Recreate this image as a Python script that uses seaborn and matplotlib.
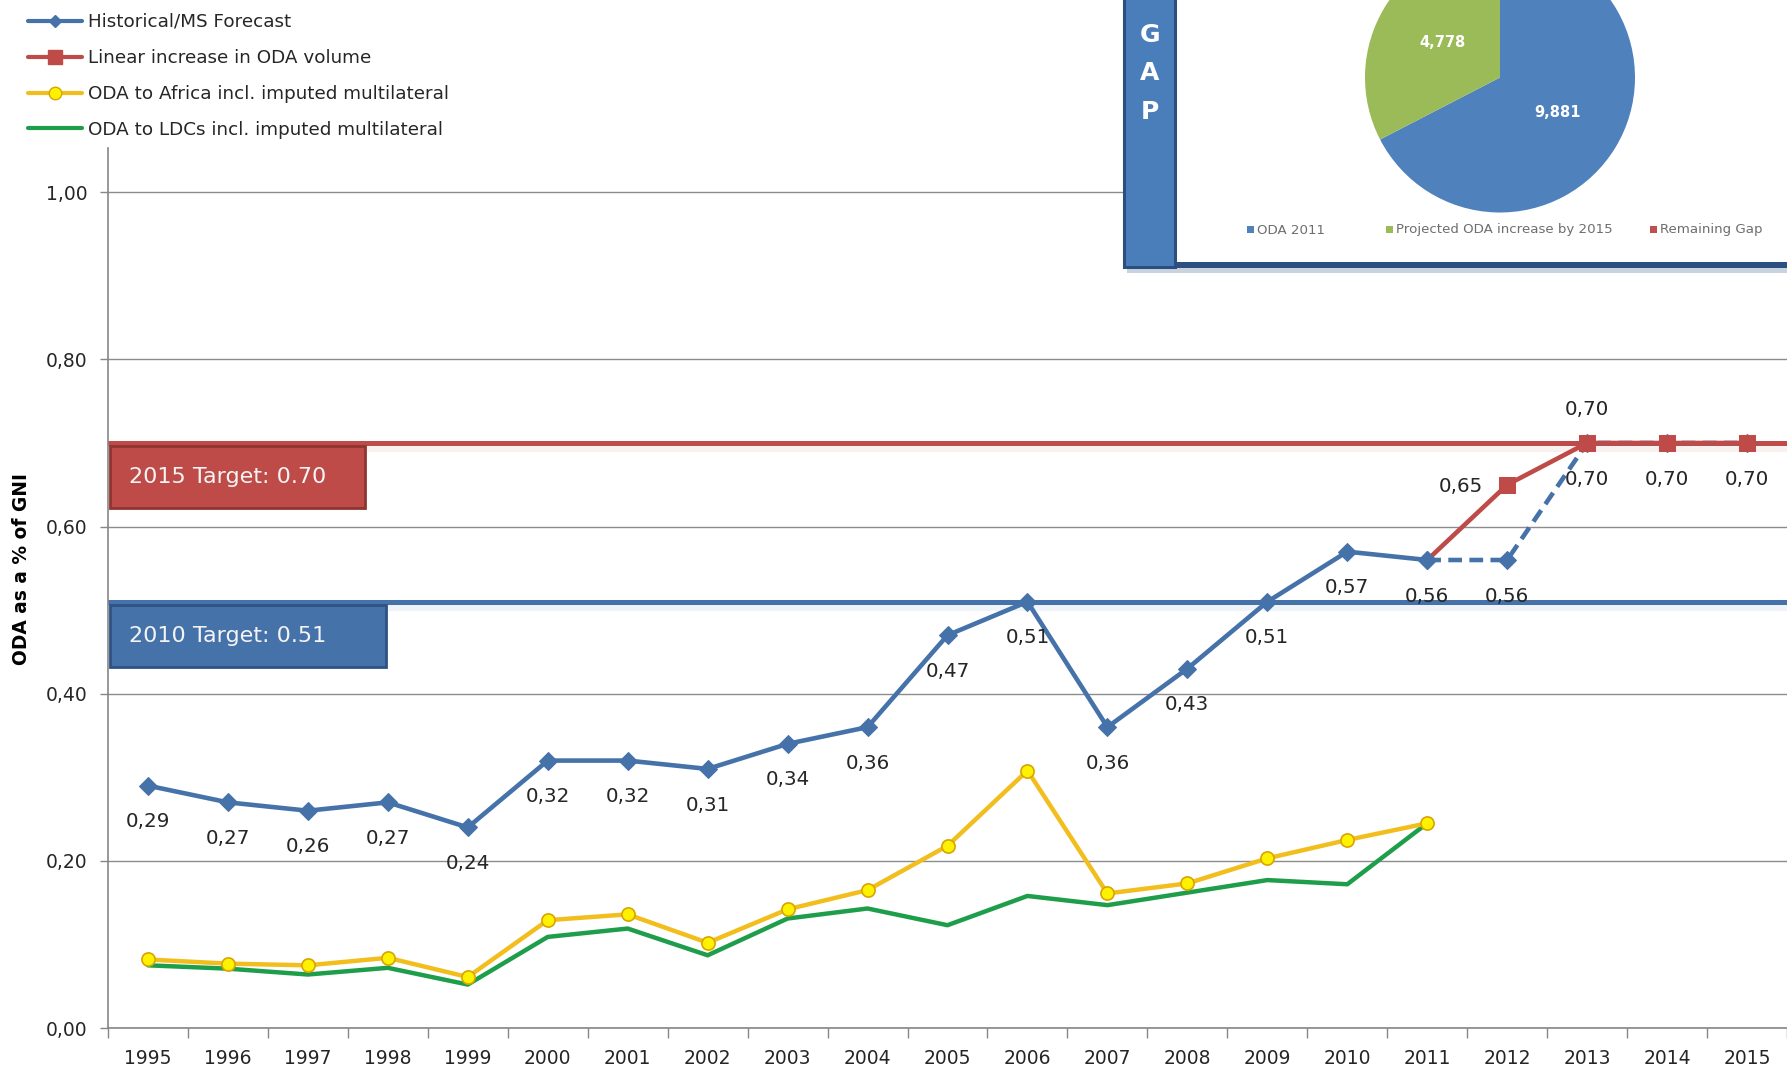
import matplotlib
matplotlib.use("Agg")
import matplotlib.pyplot as plt
import pandas as pd
import seaborn as sns
from matplotlib.lines import Line2D
from matplotlib.patches import Rectangle
from matplotlib.ticker import FuncFormatter, MultipleLocator

# ---------------------------------------------------------------- data
years_hist = list(range(1995, 2012))
oda_hist = [0.29, 0.27, 0.26, 0.27, 0.24, 0.32, 0.32, 0.31, 0.34, 0.36,
            0.47, 0.51, 0.36, 0.43, 0.51, 0.57, 0.56]

years_proj = list(range(2011, 2016))
oda_ms_forecast = [0.56, 0.56, 0.70, 0.70, 0.70]
oda_linear = [0.56, 0.65, 0.70, 0.70, 0.70]

oda_africa = [0.082, 0.077, 0.075, 0.084, 0.061, 0.129, 0.136, 0.102, 0.142,
              0.165, 0.218, 0.308, 0.161, 0.173, 0.203, 0.225, 0.245]
oda_ldc = [0.075, 0.071, 0.064, 0.072, 0.052, 0.109, 0.119, 0.087, 0.131,
           0.143, 0.123, 0.158, 0.147, 0.162, 0.177, 0.172, 0.245]

series_names = ["Historical/MS Forecast", "Linear increase in ODA volume",
                "ODA to Africa incl. imputed multilateral",
                "ODA to LDCs incl. imputed multilateral"]

target_values = [0.70, 0.51]
target_labels = ["2015 Target: 0.70", "2010 Target: 0.51"]

pie_values = [9881, 4778, 0]
pie_labels = ["ODA 2011", "Projected ODA increase by 2015", "Remaining Gap"]
gap_letters = ["G", "A", "P"]

# ---------------------------------------------------------------- style
BLUE = "#4672AA"
RED = "#BE4B48"
YELLOW = "#F2BE1E"
YELLOW_FACE = "#FFF200"
GREEN = "#1E9E4A"
GRID = "#8C8C8C"
TXT = "#262626"

sns.set_theme(style="white")
plt.rcParams["font.family"] = ["DejaVu Sans"]

W, H = 1787, 1072
fig = plt.figure(figsize=(W / 100, H / 100), dpi=100)
fig.patch.set_facecolor("white")

ax_left, ax_right, ax_bottom_px, ax_top_px = 108, 1787, 1028, 148
ax = fig.add_axes([ax_left / W, 1 - ax_bottom_px / H,
                   (ax_right - ax_left) / W, (ax_bottom_px - ax_top_px) / H])
ax.set_xlim(1994.5, 2015.5)
ax.set_ylim(0, 1.053)

def comma(v):
    return f"{v:.2f}".replace(".", ",")

# gridlines and axes
ax.yaxis.set_major_locator(MultipleLocator(0.2))
ax.yaxis.set_major_formatter(FuncFormatter(lambda v, p: comma(v)))
ax.grid(axis="y", color=GRID, linewidth=1.0)
ax.set_axisbelow(True)
for s in ["top", "right"]:
    ax.spines[s].set_visible(False)
for s in ["left", "bottom"]:
    ax.spines[s].set_color("#868686")
    ax.spines[s].set_linewidth(1.2)

all_years = list(range(1995, 2016))
ax.set_xticks(all_years)
ax.set_xticklabels([str(y) for y in all_years])
ax.set_xticks([y - 0.5 for y in all_years] + [2015.5], minor=True)
ax.tick_params(axis="x", which="major", length=0, pad=15, labelsize=13.5,
               labelcolor=TXT)
ax.tick_params(axis="x", which="minor", length=7, width=1, color="#868686",
               direction="out", bottom=True)
ax.tick_params(axis="y", length=6, width=1, color="#868686", direction="out",
               left=True, pad=9, labelsize=13.5, labelcolor=TXT)

# target lines with their label boxes
target_colors = [(RED, "#8E3532"), (BLUE, "#2F5283")]
box_widths = [3.18, 3.45]
for t, lab, (fc, ec), bw in zip(target_values, target_labels, target_colors, box_widths):
    ax.axhline(t - 0.004, color=fc, linewidth=8, alpha=0.08, zorder=2)
    ax.axhline(t, color=fc, linewidth=3.6, zorder=2.1)
    ax.add_patch(Rectangle((1994.53, t - 0.078), bw, 0.074, facecolor=fc,
                           edgecolor=ec, linewidth=2, zorder=2.2))
    ax.text(1994.76, t - 0.041, lab, color="#F4F4F4", fontsize=16,
            va="center", ha="left", zorder=2.3)

# series
df_ldc = pd.DataFrame({"year": years_hist, "value": oda_ldc})
df_afr = pd.DataFrame({"year": years_hist, "value": oda_africa})
df_hist = pd.DataFrame({"year": years_hist, "value": oda_hist})
df_fc = pd.DataFrame({"year": years_proj, "value": oda_ms_forecast})
df_lin = pd.DataFrame({"year": years_proj, "value": oda_linear})

sns.lineplot(data=df_ldc, x="year", y="value", ax=ax, color=GREEN,
             linewidth=3.2, zorder=3)
sns.lineplot(data=df_afr, x="year", y="value", ax=ax, color=YELLOW,
             linewidth=3.2, marker="o", markersize=9.5,
             markerfacecolor=YELLOW_FACE, markeredgecolor="#D9A400",
             markeredgewidth=1.2, zorder=3.5)
sns.lineplot(data=df_fc, x="year", y="value", ax=ax, color=BLUE,
             linewidth=3.3, linestyle=(0, (3, 1.6)), marker="D", markersize=9,
             markerfacecolor=BLUE, markeredgecolor=BLUE, zorder=4)
sns.lineplot(data=df_lin, x="year", y="value", ax=ax, color=RED,
             linewidth=3.3, marker="s", markersize=12, markevery=[1, 2, 3, 4],
             markerfacecolor=RED, markeredgecolor=RED, zorder=4.5)
sns.lineplot(data=df_hist, x="year", y="value", ax=ax, color=BLUE,
             linewidth=3.3, marker="D", markersize=9,
             markerfacecolor=BLUE, markeredgecolor=BLUE, zorder=5)

ax.set_xlabel("")
ax.set_ylabel("ODA as a % of GNI", fontsize=13.4, fontweight="bold", color="black")
ax.yaxis.set_label_coords((31 - ax_left) / (ax_right - ax_left), 0.522)

# value labels
lab_kw = dict(textcoords="offset points", ha="center", va="center",
              fontsize=14.3, color=TXT, zorder=6)
for x, v in zip(years_hist, oda_hist):
    ax.annotate(comma(v), (x, v), xytext=(0, -26), **lab_kw)
for x, v in zip(years_proj[1:], oda_ms_forecast[1:]):
    ax.annotate(comma(v), (x, v), xytext=(0, -26), **lab_kw)
ax.annotate(comma(oda_linear[1]), (years_proj[1], oda_linear[1]),
            xytext=(-33, -1), **lab_kw)
ax.annotate(comma(oda_linear[2]), (years_proj[2], oda_linear[2]),
            xytext=(0, 24), **lab_kw)

# series legend
handles = [
    Line2D([], [], color=BLUE, linewidth=3, marker="D", markersize=6),
    Line2D([], [], color=RED, linewidth=3, marker="s", markersize=10),
    Line2D([], [], color=YELLOW, linewidth=3, marker="o", markersize=9,
           markerfacecolor=YELLOW_FACE, markeredgecolor="#D9A400"),
    Line2D([], [], color=GREEN, linewidth=3),
]
fig.legend(handles, series_names, loc="upper left",
           bbox_to_anchor=(28 / W, 1 - 13 / H), frameon=False, fontsize=13.2,
           borderpad=0, borderaxespad=0, handlelength=2.95,
           handletextpad=0.3, labelspacing=0.98, labelcolor=TXT)

# ---------------------------------------------------------------- GAP inset
fx0, fy1 = 1118, 276
frame = fig.add_axes([fx0 / W, 1 - fy1 / H, (W - fx0) / W, fy1 / H])
frame.set_xlim(fx0, W)
frame.set_ylim(fy1, 0)
frame.axis("off")
frame.add_patch(Rectangle((1127, 267), W - 1127, 6, facecolor="#C9D3E0",
                          edgecolor="none"))
frame.add_patch(Rectangle((1123, 0), W - 1123, 266, facecolor="white",
                          edgecolor="none"))
frame.add_patch(Rectangle((1123, 262), W - 1123, 6, facecolor="#2C4F80",
                          edgecolor="none"))
frame.add_patch(Rectangle((1124, -5), 51, 272, facecolor="#4A7EBB",
                          edgecolor="#2C4F80", linewidth=2.2))
for i, letter in enumerate(gap_letters):
    frame.text(1150, 35 + 38.5 * i, letter, color="white", fontsize=18,
               fontweight="bold", ha="center", va="center")

pie_colors = ["#4F81BD", "#9BBB59", "#C0504D"]
total = sum(pie_values)
nz = [(v, c) for v, c in zip(pie_values, pie_colors) if v > 0]
pie_ax = fig.add_axes([1365 / W, 1 - 212.5 / H, 270 / W, 270 / H])
pie_ax.pie([v for v, _ in nz], colors=[c for _, c in nz], startangle=90,
           counterclock=False, pctdistance=0.5,
           autopct=lambda p: f"{p * total / 100:,.0f}",
           textprops=dict(color="white", fontsize=10.5, fontweight="bold"),
           wedgeprops=dict(linewidth=0))
pie_ax.set_xlim(-1, 1)
pie_ax.set_ylim(-1, 1)
pie_ax.set_aspect("equal")

for x, lab, c in zip([1247, 1386, 1650], pie_labels, pie_colors):
    frame.add_patch(Rectangle((x, 226), 7, 7, facecolor=c, edgecolor="none"))
    frame.text(x + 10, 230, lab, fontsize=9.6, color="#6E6E6E",
               ha="left", va="center")

fig.savefig("out.png", dpi=100)
